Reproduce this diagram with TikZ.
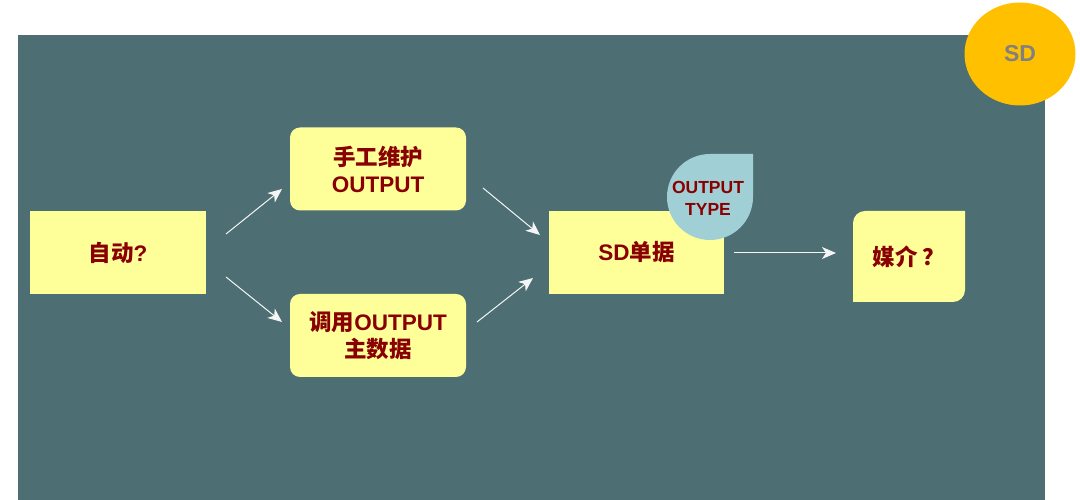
\documentclass[tikz,border=0pt]{standalone}
\usepackage{fontspec}
\setmainfont{Liberation Sans}
\newfontfamily\cjk{Noto Sans CJK SC}
\usetikzlibrary{arrows.meta,shapes.geometric}
\definecolor{slate}{RGB}{77,110,114}
\definecolor{paleyellow}{RGB}{255,255,153}
\definecolor{darkred}{RGB}{136,0,0}
\definecolor{drop}{RGB}{160,208,214}
\definecolor{amber}{RGB}{255,192,0}
\begin{document}
\begin{tikzpicture} [
				x=1pt, y=1pt,
				box/.style={fill=paleyellow, minimum width=176pt, minimum height=83pt, inner sep=0pt, align=center, text=darkred, font=\bfseries\fontsize{22.5}{27}\selectfont},
				roundbox/.style={box, rounded corners=10pt},
				flow/.style={draw=white!92!gray, line width=1pt, -{Stealth[length=14pt,width=12pt,inset=4pt]}}
			]
			\useasboundingbox (0,0) rectangle (1080,500);
			\fill[slate] (18,0) rectangle (1045,465);
			\node[ellipse, fill=amber, minimum width=111pt, minimum height=103pt, text=gray, font=\bfseries\fontsize{23}{26}\selectfont] (sd) at (1020,446) {SD};
			% boxes
			\node[box] (zidong) at (118,247.5) {{\cjk 自动}?};
			\node[roundbox] (shougong) at (378,331) {{\cjk 手工维护}\\OUTPUT};
			\node[roundbox] (diaoyong) at (378,164.5) {{\cjk 调用}OUTPUT\\{\cjk 主数据}};
			\node[box, minimum width=175pt] (danju) at (636.5,247.5) {SD{\cjk 单据}};
			\fill[paleyellow] (853,198) -- (853,277) arc[start angle=180, end angle=90, radius=12] -- (965,289) -- (965,210) arc[start angle=0, end angle=-90, radius=12] -- cycle;
			\node[box, fill=none, minimum width=112pt, minimum height=91pt] (meijie) at (909,243.5) {{\cjk 媒介 ？}};
			\fill[drop] (710,346) -- (753,346) -- (753,303) arc[start angle=0, end angle=-270, radius=43] -- cycle;
			\node[text=darkred, align=center, font=\bfseries\fontsize{17.5}{22}\selectfont] (type) at (708,302) {OUTPUT\\TYPE};
			% arrows
			\coordinate (a1) at (226,266); \coordinate (b1) at (282,311);
			\coordinate (a2) at (226,223); \coordinate (b2) at (282,178);
			\coordinate (a3) at (483,312); \coordinate (b3) at (540,265);
			\coordinate (a4) at (477,178); \coordinate (b4) at (533,222);
			\coordinate (a5) at (734,247); \coordinate (b5) at (836,247);
			\foreach \i in {1,...,5}
				\draw[flow] (a\i) -- (b\i);
		\end{tikzpicture}
\end{document}
